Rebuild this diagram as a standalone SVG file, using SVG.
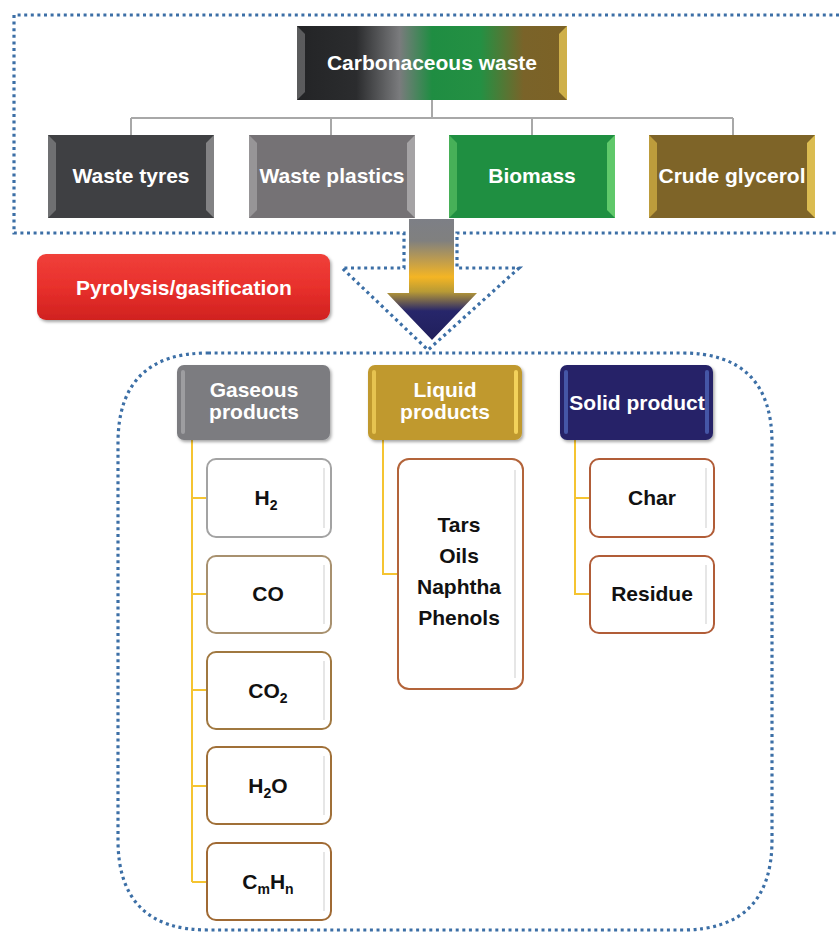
<svg xmlns="http://www.w3.org/2000/svg" width="839" height="932" viewBox="0 0 839 932">
<defs>
<linearGradient id="gCarb" x1="0" y1="0" x2="1" y2="0">
<stop offset="0" stop-color="#232426"/>
<stop offset="0.22" stop-color="#2b2c2e"/>
<stop offset="0.38" stop-color="#7a7b7d"/>
<stop offset="0.5" stop-color="#1f8d42"/>
<stop offset="0.68" stop-color="#249043"/>
<stop offset="0.84" stop-color="#7a6329"/>
<stop offset="1" stop-color="#7c6226"/>
</linearGradient>
<linearGradient id="gArrow" x1="0" y1="219" x2="0" y2="340" gradientUnits="userSpaceOnUse">
<stop offset="0" stop-color="#7d7f86"/>
<stop offset="0.18" stop-color="#80807f"/>
<stop offset="0.48" stop-color="#f4b524"/>
<stop offset="0.6" stop-color="#b89a35"/>
<stop offset="0.76" stop-color="#27266a"/>
<stop offset="1" stop-color="#201f5c"/>
</linearGradient>
<linearGradient id="gRed" x1="0" y1="0" x2="0" y2="1">
<stop offset="0" stop-color="#f0403a"/>
<stop offset="0.5" stop-color="#e8302c"/>
<stop offset="1" stop-color="#d0221f"/>
</linearGradient>
<filter id="sh" x="-10%" y="-10%" width="125%" height="130%">
<feDropShadow dx="1.5" dy="2" stdDeviation="1.5" flood-color="#000" flood-opacity="0.35"/>
</filter>
</defs>
<style>
.dot{fill:none;stroke:#3c6fa6;stroke-width:3.2;stroke-dasharray:3 3.6;}
.conn{fill:none;stroke:#a8a8a8;stroke-width:2;}
.yconn{fill:none;stroke:#f5c431;stroke-width:2;}
.wt{font-family:"Liberation Sans",Arial,sans-serif;font-weight:bold;font-size:21px;fill:#ffffff;text-anchor:middle;}
.bt{font-family:"Liberation Sans",Arial,sans-serif;font-weight:bold;font-size:21px;fill:#111111;text-anchor:middle;}
.sub{font-size:14px;}
.bevL{fill:#ffffff;opacity:0.25;}
.bevR{fill:#ffffff;opacity:0.35;}
.child{fill:#ffffff;stroke-width:2;}
.inner{fill:none;stroke:#e6e6e6;stroke-width:2;}
</style>

<!-- dotted outlines -->
<g id="outlines">
<path class="dot" d="M 839 15 L 14 15 L 14 233 L 404 233 L 404 268 L 342 268 L 428 350 L 519 268 L 457 268 L 457 233 L 839 233"/>
<path class="dot" d="M 208 353 L 682 353 Q 772 353 772 443 L 772 840 Q 772 930 682 930 L 208 930 Q 118 930 118 840 L 118 443 Q 118 353 208 353 Z"/>
</g>

<!-- connectors -->
<g id="connectors">
<path class="conn" d="M 432 100 L 432 118 M 131 118 L 733 118 M 131 118 L 131 135 M 331 118 L 331 135 M 532 118 L 532 135 M 733 118 L 733 135"/>
<path class="yconn" d="M 192 440 L 192 882 M 192 498 L 207 498 M 192 594 L 207 594 M 192 690 L 207 690 M 192 786 L 207 786 M 192 882 L 207 882"/>
<path class="yconn" d="M 383 440 L 383 574 L 398 574"/>
<path class="yconn" d="M 575 440 L 575 594 L 590 594 M 575 498 L 590 498"/>
</g>

<!-- top node -->
<g id="carbonaceous">
<rect x="297" y="26" width="270" height="74" fill="url(#gCarb)"/>
<polygon class="bevL" points="297,26 305,34 305,92 297,100"/>
<polygon points="567,26 559,34 559,92 567,100" fill="#f2d25a" opacity="0.7"/>
<text class="wt" x="432" y="70">Carbonaceous waste</text>
</g>

<g id="tyres">
<rect x="48" y="135" width="166" height="83" fill="#3f4043"/>
<polygon class="bevL" points="48,135 56,143 56,210 48,218"/>
<polygon class="bevR" points="214,135 206,143 206,210 214,218"/>
<text class="wt" x="131" y="183">Waste tyres</text>
</g>
<g id="plastics">
<rect x="249" y="135" width="166" height="83" fill="#757275"/>
<polygon class="bevL" points="249,135 257,143 257,210 249,218"/>
<polygon class="bevR" points="415,135 407,143 407,210 415,218"/>
<text class="wt" x="332" y="183">Waste plastics</text>
</g>
<g id="biomass">
<rect x="449" y="135" width="166" height="83" fill="#1f8f41"/>
<polygon points="449,135 457,143 457,210 449,218" fill="#6fd16f" opacity="0.5"/>
<polygon points="615,135 607,143 607,210 615,218" fill="#7ce07c" opacity="0.7"/>
<text class="wt" x="532" y="183">Biomass</text>
</g>
<g id="glycerol">
<rect x="649" y="135" width="166" height="83" fill="#7e6428"/>
<polygon points="649,135 657,143 657,210 649,218" fill="#e8c24a" opacity="0.6"/>
<polygon points="815,135 807,143 807,210 815,218" fill="#f2d25a" opacity="0.8"/>
<text class="wt" x="732" y="183">Crude glycerol</text>
</g>

<!-- arrow -->
<g id="arrow">
<path d="M 409 219 L 454 219 L 454 293 L 477 293 L 432 340 L 387 293 L 409 293 Z" fill="url(#gArrow)"/>
</g>

<g id="pyrolysis">
<rect x="37" y="254" width="293" height="66" rx="9" fill="url(#gRed)" filter="url(#sh)"/>
<text class="wt" x="184" y="295">Pyrolysis/gasification</text>
</g>

<!-- headers -->
<g id="gaseous">
<rect x="177" y="365" width="153" height="75" rx="7" fill="#7b7c80" filter="url(#sh)"/>
<rect x="181" y="370" width="4" height="64" rx="2" fill="#ffffff" opacity="0.25"/>
<text class="wt" x="254" y="397">Gaseous</text>
<text class="wt" x="254" y="419">products</text>
</g>
<g id="liquid">
<rect x="368" y="365" width="154" height="75" rx="7" fill="#c0992d" filter="url(#sh)"/>
<rect x="372" y="370" width="4" height="64" rx="2" fill="#ffe067" opacity="0.6"/>
<rect x="514" y="370" width="4" height="64" rx="2" fill="#ffe067" opacity="0.8"/>
<text class="wt" x="445" y="397">Liquid</text>
<text class="wt" x="445" y="419">products</text>
</g>
<g id="solid">
<rect x="560" y="365" width="153" height="75" rx="7" fill="#252468" filter="url(#sh)"/>
<rect x="564" y="370" width="4" height="64" rx="2" fill="#5a7ad0" opacity="0.6"/>
<rect x="705" y="370" width="4" height="64" rx="2" fill="#5a7ad0" opacity="0.6"/>
<text class="wt" x="637" y="410">Solid product</text>
</g>

<!-- gaseous children -->
<g id="h2">
<rect class="child" x="207" y="459" width="124" height="78" rx="9" stroke="#a3a3a3"/>
<line class="inner" x1="324" y1="468" x2="324" y2="528"/>
<text class="bt" x="266" y="505">H<tspan class="sub" dy="5">2</tspan></text>
</g>
<g id="co">
<rect class="child" x="207" y="556" width="124" height="77" rx="9" stroke="#a8916f"/>
<line class="inner" x1="324" y1="565" x2="324" y2="624"/>
<text class="bt" x="268" y="601">CO</text>
</g>
<g id="co2">
<rect class="child" x="207" y="652" width="124" height="77" rx="9" stroke="#a07840"/>
<line class="inner" x1="324" y1="661" x2="324" y2="720"/>
<text class="bt" x="268" y="698">CO<tspan class="sub" dy="5">2</tspan></text>
</g>
<g id="h2o">
<rect class="child" x="207" y="747" width="124" height="77" rx="9" stroke="#a07038"/>
<line class="inner" x1="324" y1="756" x2="324" y2="815"/>
<text class="bt" x="268" y="793">H<tspan class="sub" dy="5">2</tspan><tspan dy="-5">O</tspan></text>
</g>
<g id="cmhn">
<rect class="child" x="207" y="843" width="124" height="77" rx="9" stroke="#a06a34"/>
<line class="inner" x1="324" y1="852" x2="324" y2="911"/>
<text class="bt" x="268" y="889">C<tspan class="sub" dy="5">m</tspan><tspan dy="-5">H</tspan><tspan class="sub" dy="5">n</tspan></text>
</g>

<!-- liquid child -->
<g id="liquidlist">
<rect class="child" x="398" y="459" width="125" height="230" rx="11" stroke="#b3643a"/>
<line class="inner" x1="515" y1="470" x2="515" y2="678"/>
<text class="bt" x="459" y="532">Tars</text>
<text class="bt" x="459" y="563">Oils</text>
<text class="bt" x="459" y="594">Naphtha</text>
<text class="bt" x="459" y="625">Phenols</text>
</g>

<!-- solid children -->
<g id="char">
<rect class="child" x="590" y="459" width="124" height="78" rx="9" stroke="#b15d38"/>
<line class="inner" x1="706" y1="468" x2="706" y2="528"/>
<text class="bt" x="652" y="505">Char</text>
</g>
<g id="residue">
<rect class="child" x="590" y="556" width="124" height="77" rx="9" stroke="#b15d38"/>
<line class="inner" x1="706" y1="565" x2="706" y2="624"/>
<text class="bt" x="652" y="601">Residue</text>
</g>
</svg>
